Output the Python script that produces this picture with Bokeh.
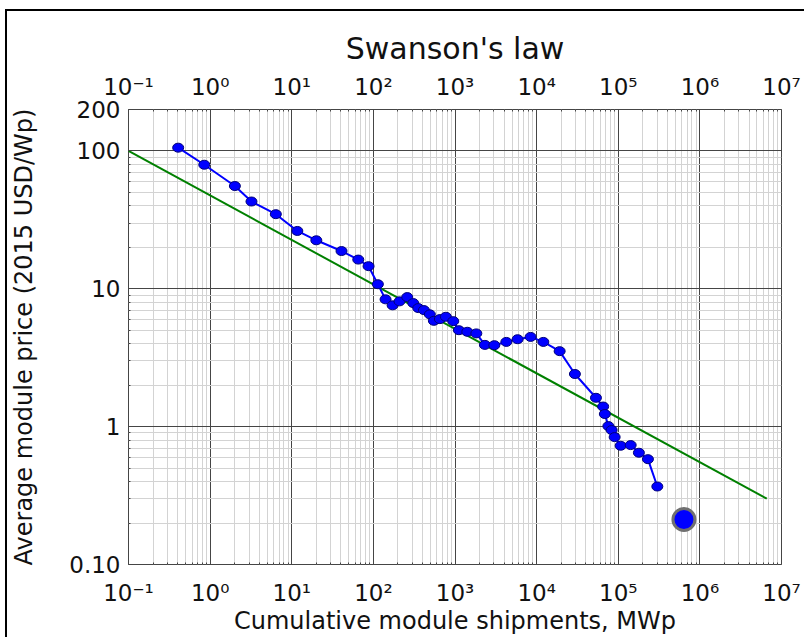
from bokeh.plotting import figure
from bokeh.models import FixedTicker, LogAxis, Range1d
from bokeh.embed import file_html
from bokeh.resources import INLINE

# Data
shipments = [0.406, 0.848, 2.01, 3.21, 6.38, 11.7, 20.0, 40.7, 65.3, 87.3,
             113.5, 141, 172, 209, 260, 308, 355, 416, 492, 551,
             653, 773, 952, 1116, 1415, 1825, 2324, 3030, 4256, 5850,
             8440, 12080, 19140, 29440, 53300, 65300, 68500, 75700, 83000, 90300,
             107000, 142000, 179000, 231000, 301000]
price = [105.7, 79.5, 55.7, 43.0, 34.8, 26.3, 22.5, 18.8, 16.3, 14.6,
         10.8, 8.39, 7.59, 8.11, 8.71, 7.88, 7.25, 7.01, 6.53, 5.86,
         6.03, 6.27, 5.83, 5.01, 4.88, 4.75, 3.92, 3.90, 4.12, 4.31,
         4.48, 4.12, 3.53, 2.41, 1.62, 1.40, 1.235, 1.01, 0.945, 0.840,
         0.727, 0.735, 0.647, 0.581, 0.368]
latest_shipments = [638000]
latest_price = [0.212]
fit_shipments = [0.1, 6.6e6]
fit_price = [100, 0.30]

x_ticks = [1e-1, 1e0, 1e1, 1e2, 1e3, 1e4, 1e5, 1e6, 1e7]
x_tick_labels = ["10⁻¹", "10⁰", "10¹", "10²", "10³", "10⁴", "10⁵", "10⁶", "10⁷"]
y_ticks = [0.1, 1, 10, 100, 200]
y_tick_labels = ["0.10", "1", "10", "100", "200"]

x_minor = [m * d for d in x_ticks[:-1] for m in range(2, 10)]
y_minor = [m * d for d in [0.1, 1, 10] for m in range(2, 10)]

FONT = "DejaVu Sans"
MAJOR = "#454545"
MINOR = "#d3d3d3"

p = figure(x_axis_type="log", y_axis_type="log",
           x_range=Range1d(0.1, 1e7), y_range=Range1d(0.1, 200),
           frame_width=653, frame_height=455,
           min_border_left=120, min_border_top=98,
           min_border_right=23, min_border_bottom=70,
           output_backend="svg", toolbar_location=None,
           title="Swanson's law")
p.styles = {"border-top": "2px solid black", "border-left": "2px solid black",
            "margin-left": "5px", "margin-top": "9px"}

xt = FixedTicker(ticks=x_ticks, minor_ticks=x_minor)
yt = FixedTicker(ticks=y_ticks, minor_ticks=y_minor)

bottom_axis = p.below[0]
left_axis = p.left[0]
bottom_axis.ticker = xt
left_axis.ticker = yt
p.xgrid.ticker = xt
p.ygrid.ticker = yt

top_axis = LogAxis(ticker=xt)
p.add_layout(top_axis, "above")

for ax in (bottom_axis, left_axis, top_axis):
    ax.major_label_text_font = FONT
    ax.major_label_text_font_size = "23px"
    ax.major_label_text_color = "#111111"
    ax.axis_line_color = None
    ax.major_tick_in = 4
    ax.major_tick_out = 0
    ax.minor_tick_in = 2
    ax.minor_tick_out = 0
    ax.major_tick_line_color = MAJOR
    ax.minor_tick_line_color = MAJOR
    ax.axis_label_text_font = FONT
    ax.axis_label_text_font_size = "24px"
    ax.axis_label_text_font_style = "normal"
    ax.axis_label_text_color = "#111111"

for ax in (bottom_axis, top_axis):
    ax.major_label_overrides = dict(zip(x_ticks, x_tick_labels))
left_axis.major_label_overrides = dict(zip(y_ticks, y_tick_labels))
left_axis.major_label_standoff = 8
bottom_axis.major_label_standoff = 15
top_axis.major_label_standoff = 10

bottom_axis.axis_label = "Cumulative module shipments, MWp"
bottom_axis.axis_label_standoff = -2
left_axis.axis_label = "Average module price (2015 USD/Wp)"
left_axis.axis_label_standoff = 28

for g in (p.xgrid[0], p.ygrid[0]):
    g.grid_line_color = MAJOR
    g.grid_line_width = 1
    g.minor_grid_line_color = MINOR
    g.minor_grid_line_width = 1

p.outline_line_color = MAJOR
p.outline_line_width = 1

p.title.text_font = FONT
p.title.text_font_size = "30px"
p.title.text_font_style = "normal"
p.title.text_color = "#111111"
p.title.align = "center"
p.title.standoff = 10

p.line(fit_shipments, fit_price, line_color="#008000", line_width=2)
p.line(shipments, price, line_color="#0000ff", line_width=2)
p.ellipse(shipments, price, width=11, height=9, width_units="screen",
          height_units="screen", fill_color="#0000ff", line_color="#00007a",
          line_width=1)
p.scatter(latest_shipments, latest_price, size=22, fill_color="#0000ff",
          line_color="#707070", line_width=3)

open("out.html", "w").write(file_html(p, INLINE))
